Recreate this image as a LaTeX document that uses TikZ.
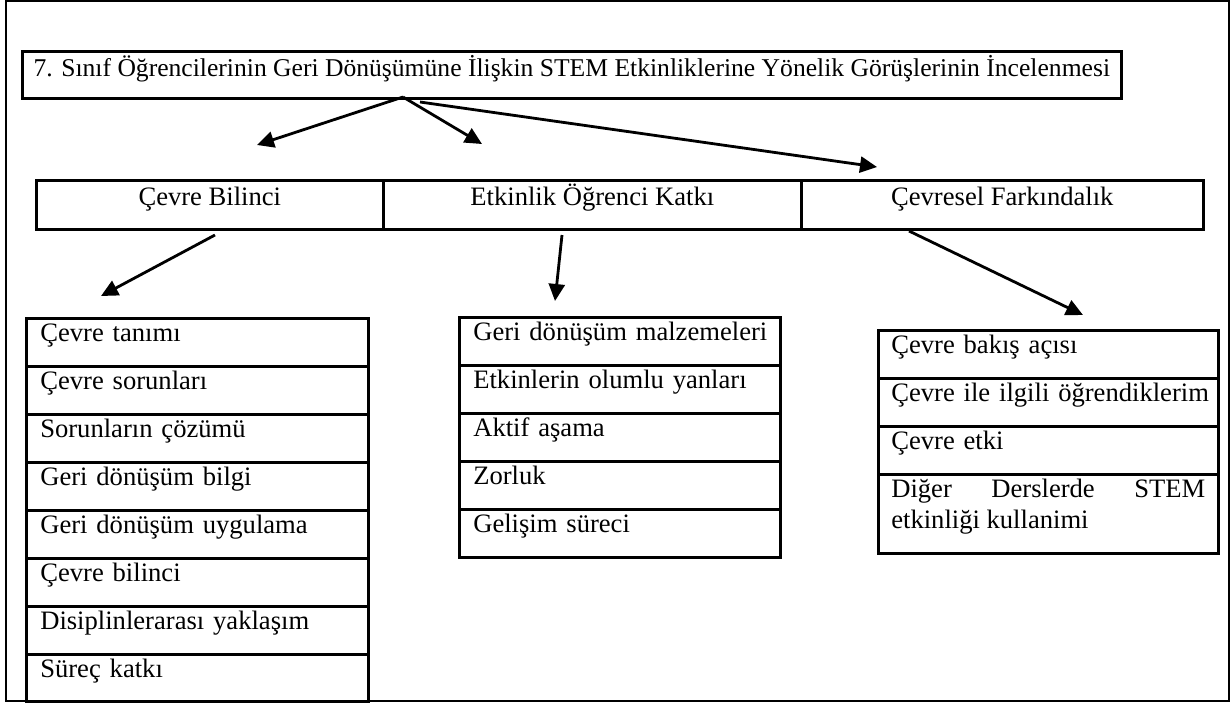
\documentclass[tikz,border=0pt]{standalone}
\usepackage{fontspec}
\setmainfont{Liberation Serif}
\usetikzlibrary{arrows.meta}
\hyphenpenalty=10000

\tikzset{
  every box/.style={draw, line width=1.3pt, inner ysep=0pt, anchor=north west,
    font=\fontsize{13.3}{15.5}\selectfont},
  head box/.style={every box, align=center, inner xsep=2pt,
    text height=12.5pt, text depth=12pt},
  list item/.style={every box, align=left, inner xsep=7pt, text width=#1,
    text height=11.5pt, text depth=12.5pt},
  link/.style={->, line width=1.4pt}
}

\begin{document}
\begin{tikzpicture}[x=0.5pt, y=-0.5pt, >={Triangle[length=8.5pt, width=8pt]}]

\useasboundingbox (0,0) rectangle (1232,702);
\draw [line width=1pt] (6,1) rectangle (1229,701);

\node [head box, minimum width=549.5pt, text depth=11pt, font=\fontsize{12.8}{15}\selectfont] (title) at (21,50)
  {7. Sınıf Öğrencilerinin Geri Dönüşümüne İlişkin STEM Etkinliklerine Yönelik Görüşlerinin İncelenmesi};

\foreach \txt/\x/\w [count=\i] in {Çevre Bilinci/35/173.5pt, Etkinlik Öğrenci Katkı/382/209pt, Çevresel Farkındalık/800/201pt}
  \node [head box, minimum width=\w] (head-\i) at (\x,179) {\txt};

\foreach \txt [count=\i] in {Çevre tanımı, Çevre sorunları, Sorunların çözümü, Geri dönüşüm bilgi, Geri dönüşüm uygulama, Çevre bilinci, Disiplinlerarası yaklaşım, Süreç katkı}
  \node [list item=157pt] (cevre-\i) at (25,{317+48*(\i-1)}) {\mbox{\txt}};

\foreach \txt [count=\i] in {Geri dönüşüm malzemeleri, Etkinlerin olumlu yanları, Aktif aşama, Zorluk, Gelişim süreci}
  \node [list item=146.5pt] (etkinlik-\i) at (458,{316+48*(\i-1)}) {\mbox{\txt}};

\foreach \txt [count=\i] in {Çevre bakış açısı, Çevre ile ilgili öğrendiklerim, Çevre etki}
  \node [list item=157pt, inner xsep=6.5pt] (farkindalik-\i) at (877,{329+48*(\i-1)}) {\mbox{\txt}};
\node [list item=157pt, inner xsep=6.5pt, align=justify, text depth=28pt] (farkindalik-4) at (877,473)
  {Diğer Derslerde STEM etkinliği kullanimi};

\coordinate (split-1) at (403,97);
\coordinate (split-2) at (420,102);
\coordinate (into-1) at (257,145);
\coordinate (into-2) at (482,144);
\coordinate (into-3) at (877,167);
\coordinate (from-1) at (215,235);
\coordinate (from-2) at (562,235);
\coordinate (from-3) at (909,231);
\coordinate (to-1) at (101,296);
\coordinate (to-2) at (555,301);
\coordinate (to-3) at (1083,315);

\draw [link] (split-1) -- (into-1);
\draw [link] (split-1) -- (into-2);
\draw [link] (split-2) -- (into-3);

\foreach \i in {1,2,3}
  \draw [link] (from-\i) -- (to-\i);

\end{tikzpicture}
\end{document}
